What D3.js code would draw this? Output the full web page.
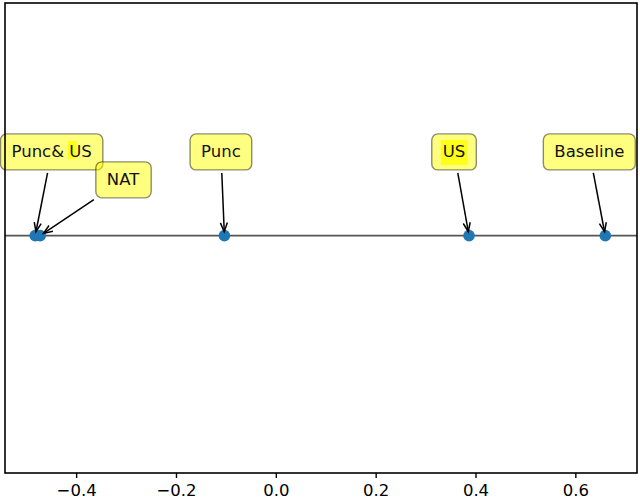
<!DOCTYPE html>
<html>
<head>
<meta charset="utf-8">
<script src="https://cdn.jsdelivr.net/npm/d3@7"></script>
<style>
  body { margin: 0; background: #fff; }
  text { font-family: "DejaVu Sans", sans-serif; }
</style>
</head>
<body>
<svg id="chart" width="640" height="499"></svg>
<script>
// points on the line
var names = ["Punc& US", "NAT", "Punc", "US", "Baseline"];
var xs = [-0.482, -0.472, -0.103, 0.387, 0.660];
// where each label box sits (data coords)
var labelX = [-0.449, -0.306, -0.110, 0.357, 0.628];
var labelY = [0.36, 0.24, 0.36, 0.36, 0.36];
var ticks = [-0.4, -0.2, 0.0, 0.2, 0.4, 0.6];

var svg = d3.select('#chart');
var plotL = 5, plotR = 637, plotT = 3, plotB = 473;

var x = d3.scaleLinear().domain([-0.5425, 0.7235]).range([plotL, plotR]);
var y = d3.scaleLinear().domain([-1.02, 1]).range([plotB, plotT]);

// horizontal line at 0
svg.append('line')
   .attr('x1', plotL).attr('x2', plotR)
   .attr('y1', y(0)).attr('y2', y(0))
   .attr('stroke', '#555').attr('stroke-width', 1.6);

// points
svg.selectAll('circle.pt').data(xs).enter().append('circle')
   .attr('class', 'pt')
   .attr('cx', function(d){ return x(d); })
   .attr('cy', y(0))
   .attr('r', 5.8)
   .attr('fill', '#1f77b4');

// annotations
var padX = 11, padY = 8.5;
names.forEach(function(name, i){
  var g = svg.append('g');
  var tx = x(labelX[i]), ty = y(labelY[i]);
  var box = g.append('rect');
  var t = g.append('text')
     .attr('x', tx).attr('y', ty)
     .attr('text-anchor', 'middle')
     .attr('dominant-baseline', 'central')
     .attr('font-size', '16.5px')
     .attr('fill', '#111')
     .text(name);
  var bb = t.node().getBBox();
  var bx = bb.x - padX, by = ty - 9.5 - padY, bw = bb.width + 2*padX, bh = 19 + 2*padY;
  box.attr('x', bx).attr('y', by).attr('width', bw).attr('height', bh)
     .attr('rx', 6).attr('ry', 6)
     .attr('fill', '#ffff00').attr('fill-opacity', 0.5)
     .attr('stroke', '#000').attr('stroke-opacity', 0.45).attr('stroke-width', 1.4);

  // brighter patch behind "US" text (overlapping label)
  if (name === 'US') {
    g.insert('rect', 'text')
     .attr('x', bb.x - 2).attr('y', ty - 12).attr('width', bb.width + 4).attr('height', 25)
     .attr('fill', '#ffff00').attr('fill-opacity', 0.8);
  }
  if (name === 'Punc& US') {
    g.insert('rect', 'text')
     .attr('x', tx + 16).attr('y', ty - 11).attr('width', 9).attr('height', 18)
     .attr('fill', '#ffff00').attr('fill-opacity', 0.8);
  }

  // arrow from box edge to point
  var px = x(xs[i]), py = y(0);
  var dx = px - tx, dy = py - ty;
  var s = 1;
  if (dy > 0) s = Math.min(s, (by + bh - ty) / dy);
  if (dx < 0) s = Math.min(s, (bx - tx) / dx);
  if (dx > 0) s = Math.min(s, (bx + bw - tx) / dx);
  var len = Math.sqrt(dx*dx + dy*dy);
  var ux = dx / len, uy = dy / len;
  var sx = tx + dx*s + ux*3, sy = ty + dy*s + uy*3;
  var ex = px - ux*4, ey = py - uy*4;
  g.append('line')
   .attr('x1', sx).attr('y1', sy).attr('x2', ex).attr('y2', ey)
   .attr('stroke', '#000').attr('stroke-width', 1.5);
  var hl = 9, hw = 3.5;
  var hx = ex - ux*hl, hy = ey - uy*hl;
  g.append('path')
   .attr('d', 'M' + (hx - uy*hw) + ',' + (hy + ux*hw) + 'L' + ex + ',' + ey + 'L' + (hx + uy*hw) + ',' + (hy - ux*hw))
   .attr('fill', 'none').attr('stroke', '#000').attr('stroke-width', 1.5);
});

// frame
svg.append('rect')
   .attr('x', plotL).attr('y', plotT)
   .attr('width', plotR - plotL).attr('height', plotB - plotT)
   .attr('fill', 'none').attr('stroke', '#000').attr('stroke-width', 1.6);

// x axis
var axis = d3.axisBottom(x).tickValues(ticks).tickSize(5).tickPadding(6)
   .tickFormat(function(d){ return d3.format('.1f')(d).replace('-', '\u2212'); });
var ax = svg.append('g').attr('transform', 'translate(0,' + plotB + ')').call(axis);
ax.select('.domain').remove();
ax.selectAll('text').attr('font-size', '16.5px').attr('font-family', '"DejaVu Sans", sans-serif').attr('fill', '#000');
ax.selectAll('line').attr('stroke', '#000').attr('stroke-width', 1.4);
</script>
</body>
</html>
